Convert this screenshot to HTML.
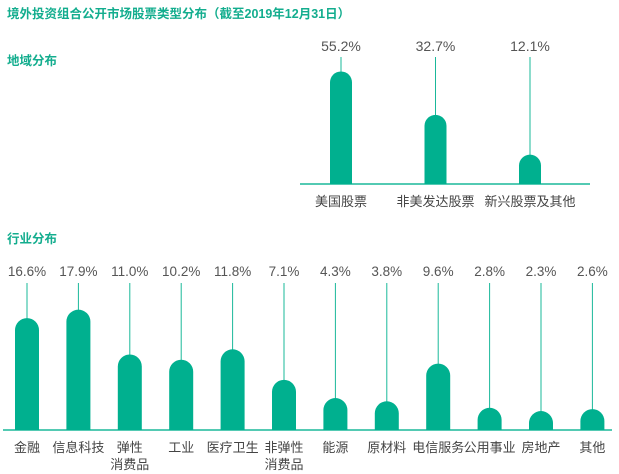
<!DOCTYPE html>
<html><head><meta charset="utf-8"><style>
html,body{margin:0;padding:0;background:#fff;}
svg{display:block;font-family:"Liberation Sans","Noto Sans CJK SC",sans-serif;}
</style></head><body>
<svg id="c" width="619" height="474" viewBox="0 0 619 474" xmlns="http://www.w3.org/2000/svg">
<text x="7" y="18" font-size="12.5" font-weight="bold" fill="#13ad8e">境外投资组合公开市场股票类型分布（截至2019年12月31日）</text>
<text x="7" y="65" font-size="12.5" font-weight="bold" fill="#13ad8e">地域分布</text>
<text x="7" y="243" font-size="12.5" font-weight="bold" fill="#13ad8e">行业分布</text>
<g id="top"></g>
<g id="bot"></g>
</svg>
<script>
const regionCats = ["美国股票","非美发达股票","新兴股票及其他"];
const regionVals = [55.2,32.7,12.1];
const industryCats = [["金融"],["信息科技"],["弹性","消费品"],["工业"],["医疗卫生"],["非弹性","消费品"],["能源"],["原材料"],["电信服务"],["公用事业"],["房地产"],["其他"]];
const industryVals = [16.6,17.9,11.0,10.2,11.8,7.1,4.3,3.8,9.6,2.8,2.3,2.6];
const NS="http://www.w3.org/2000/svg";
function mk(tag,attrs,parent){const e=document.createElementNS(NS,tag);for(const k in attrs)e.setAttribute(k,attrs[k]);parent.appendChild(e);return e;}
function drawChart(g,cats,vals,opt){
  const n=cats.length;
  const xScale=i=>opt.x0+i*opt.step;
  const yScale=v=>opt.base-(opt.a+opt.b*v);
  const axis=mk('line',{x1:opt.ax1,x2:opt.ax2,y1:opt.base,y2:opt.base,stroke:'#1ab89a','stroke-width':1.6},g);
  
  
  for(let i=0;i<n;i++){
    const cx=xScale(i),top=yScale(vals[i]),w=opt.w,r=opt.w/2;
    const stem=mk('line',{x1:cx,x2:cx,y1:opt.stemTop,y2:top+2,stroke:'#1ab89a','stroke-width':1},g);
    
    
    const p=mk('path',{d:`M${cx-w/2},${opt.base} L${cx-w/2},${top+r} A${r},${r} 0 0 1 ${cx+w/2},${top+r} L${cx+w/2},${opt.base} Z`,fill:'#00b08f'},g);
    
    
    const t=mk('text',{x:cx,y:opt.labelY,'text-anchor':'middle','font-size':opt.fs,fill:'#555'},g);
    t.textContent=vals[i].toFixed(1)+'%';
    
    
    const lines=Array.isArray(cats[i])?cats[i]:[cats[i]];
    lines.forEach((s,j)=>{
      const c=mk('text',{x:cx,y:opt.catY+j*17,'text-anchor':'middle','font-size':opt.cfs,fill:'#444'},g);
      c.textContent=s;
      
      
    });
  }
}
drawChart(document.getElementById('top'),regionCats,regionVals,{x0:341,step:94.5,w:22,base:184,a:6,b:1.93,ax1:300,ax2:590,stemTop:57,labelY:51,catY:206,fs:14,cfs:13,prefix:'region'});
drawChart(document.getElementById('bot'),industryCats,industryVals,{x0:27,step:51.4,w:24,base:430,a:4,b:6.5,ax1:3,ax2:612,stemTop:283,labelY:276,catY:452,fs:13.5,cfs:13,prefix:'industry'});
</script>
</body></html>
